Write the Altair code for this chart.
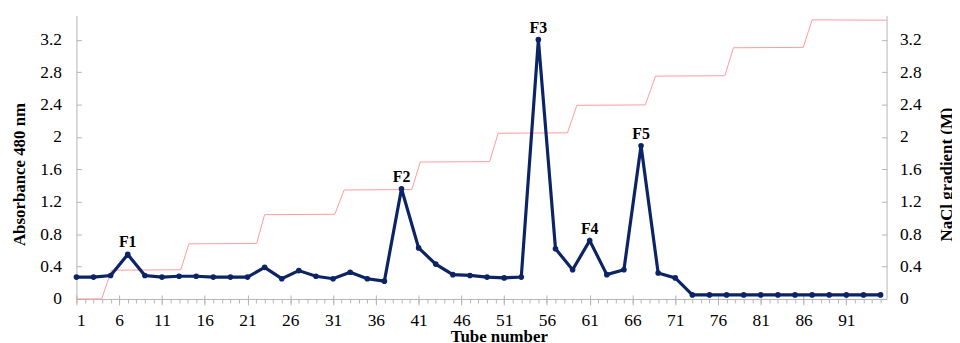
import altair as alt
import pandas as pd

# Absorbance at 480 nm (every second tube)
tubes = list(range(1, 96, 2))
absorbance = [0.27, 0.27, 0.29, 0.55, 0.29, 0.27, 0.28, 0.28, 0.27, 0.27,
              0.27, 0.39, 0.25, 0.35, 0.28, 0.25, 0.33, 0.25, 0.22, 1.36,
              0.63, 0.43, 0.30, 0.29, 0.27, 0.26, 0.27, 3.20, 0.62, 0.36,
              0.72, 0.30, 0.36, 1.89, 0.32, 0.26, 0.05, 0.05, 0.05, 0.05,
              0.05, 0.05, 0.05, 0.05, 0.05, 0.05, 0.05, 0.05]

# NaCl step gradient (M)
nacl_tube = [1, 3.95, 5.1, 13.2, 14.15, 22.07, 23.0, 31.2, 32.3, 40.2, 41.2,
             49.3, 50.3, 58.4, 59.5, 67.5, 68.7, 76.8, 77.8, 85.96, 87.0, 95.7]
nacl_value = [0.0, 0.0, 0.355, 0.36, 0.68, 0.685, 1.04, 1.045, 1.345, 1.35,
              1.69, 1.695, 2.045, 2.05, 2.39, 2.395, 2.75, 2.755, 3.10, 3.105,
              3.445, 3.44]

# Fraction labels
frac_names = ["F1", "F2", "F3", "F4", "F5"]
frac_tubes = [7, 39, 55, 61, 67]

x_major = list(range(1, 92, 5))
x_minor = list(range(1, 96))
y_ticks = [0, 0.4, 0.8, 1.2, 1.6, 2, 2.4, 2.8, 3.2]

df_abs = pd.DataFrame({"tube": tubes, "abs": absorbance})
df_nacl = pd.DataFrame({"tube": nacl_tube, "nacl": nacl_value})
lookup = dict(zip(tubes, absorbance))
df_lab = pd.DataFrame({"tube": frac_tubes, "abs": [lookup[t] for t in frac_tubes],
                       "name": frac_names})

FONT = "Liberation Serif"
NAVY = "#0c2466"
PINK = "#ff9a9a"
GRAY = "#b3b3b3"
LBL = 17.5
W, H = 817, 286

xscale = alt.Scale(domain=[1, 95.7], nice=False, zero=False)
yscale = alt.Scale(domain=[0, 3.5], nice=False)

x_main_axis = alt.Axis(values=x_major, orient="bottom", tickSize=6, tickColor=GRAY,
                       domainColor=GRAY, grid=False, labelBaseline="alphabetic",
                       labelPadding=20.5, labelOverlap=False,
                       title="Tube number", titleBaseline="alphabetic",
                       titleX=426, titleY=42.5, titleAnchor="start", titleAlign="center")
x_minor_axis = alt.Axis(values=x_minor, orient="bottom", tickSize=4, tickColor=GRAY,
                        domain=False, labels=False, grid=False, title=None)

y_left_axis = alt.Axis(values=y_ticks, orient="left", format=".1~f", ticks=False,
                       domainColor=GRAY, grid=False, labelPadding=15, labelOverlap=False,
                       title="Absorbance 480 nm", titleAngle=270,
                       titleBaseline="alphabetic", titleAlign="center",
                       titleX=-52.5, titleY=160)
y_right_axis = alt.Axis(values=y_ticks, orient="right", format=".1~f", ticks=False,
                        domainColor=GRAY, grid=False, labelPadding=13, labelOverlap=False,
                        title="NaCl gradient (M)", titleAngle=270,
                        titleBaseline="alphabetic", titleAlign="center",
                        titleX=66, titleY=160)

# inward tick marks on both value axes, and the upper half of the major x ticks
inner_left = alt.Axis(values=y_ticks, orient="right", offset=-W, tickSize=5,
                      tickColor=GRAY, domain=False, labels=False, grid=False, title=None)
inner_right = alt.Axis(values=y_ticks, orient="left", offset=-W, tickSize=5,
                       tickColor=GRAY, domain=False, labels=False, grid=False, title=None)
x_cross = alt.Axis(values=x_major, orient="top", offset=-H, tickSize=4,
                   tickColor=GRAY, domain=False, labels=False, grid=False, title=None)

pink = alt.Chart(df_nacl).mark_line(color=PINK, strokeWidth=1).encode(
    x=alt.X("tube:Q", scale=xscale, axis=x_minor_axis),
    y=alt.Y("nacl:Q", scale=yscale, axis=y_right_axis),
    order="tube:Q",
)

X = alt.X("tube:Q", scale=xscale, axis=x_main_axis)
Y = alt.Y("abs:Q", scale=yscale, axis=y_left_axis)

base = alt.Chart(df_abs)
line = base.mark_line(color=NAVY, strokeWidth=3.2).encode(x=X, y=Y)
pts = base.mark_circle(color=NAVY, size=32, opacity=1).encode(x=X, y=Y)
labels = alt.Chart(df_lab).mark_text(font=FONT, fontSize=16, fontWeight="bold",
                                     color="black", baseline="alphabetic", dy=-7).encode(
    x=X, y=Y, text="name:N",
)
blue = alt.layer(line, pts, labels)

ticks_l = base.mark_circle(opacity=0).encode(
    x=alt.X("tube:Q", scale=xscale, axis=x_cross),
    y=alt.Y("abs:Q", scale=yscale, axis=inner_left),
)
ticks_r = base.mark_circle(opacity=0).encode(
    x=alt.X("tube:Q", scale=xscale, axis=None),
    y=alt.Y("abs:Q", scale=yscale, axis=inner_right),
)

chart = alt.layer(pink, ticks_l, ticks_r, blue).resolve_scale(y="independent").resolve_axis(
    x="independent", y="independent"
).properties(
    width=W, height=H,
    autosize=alt.AutoSizeParams(type="none"),
    padding={"left": 69, "top": 6, "right": 66, "bottom": 43},
    background="white",
).configure_view(stroke=None).configure_axis(
    labelFont=FONT, labelFontSize=LBL, labelColor="black",
    titleFont=FONT, titleFontSize=17, titleFontWeight="bold", titleColor="black",
)

chart.save("out.html", embed_options={"renderer": "svg", "actions": False})
